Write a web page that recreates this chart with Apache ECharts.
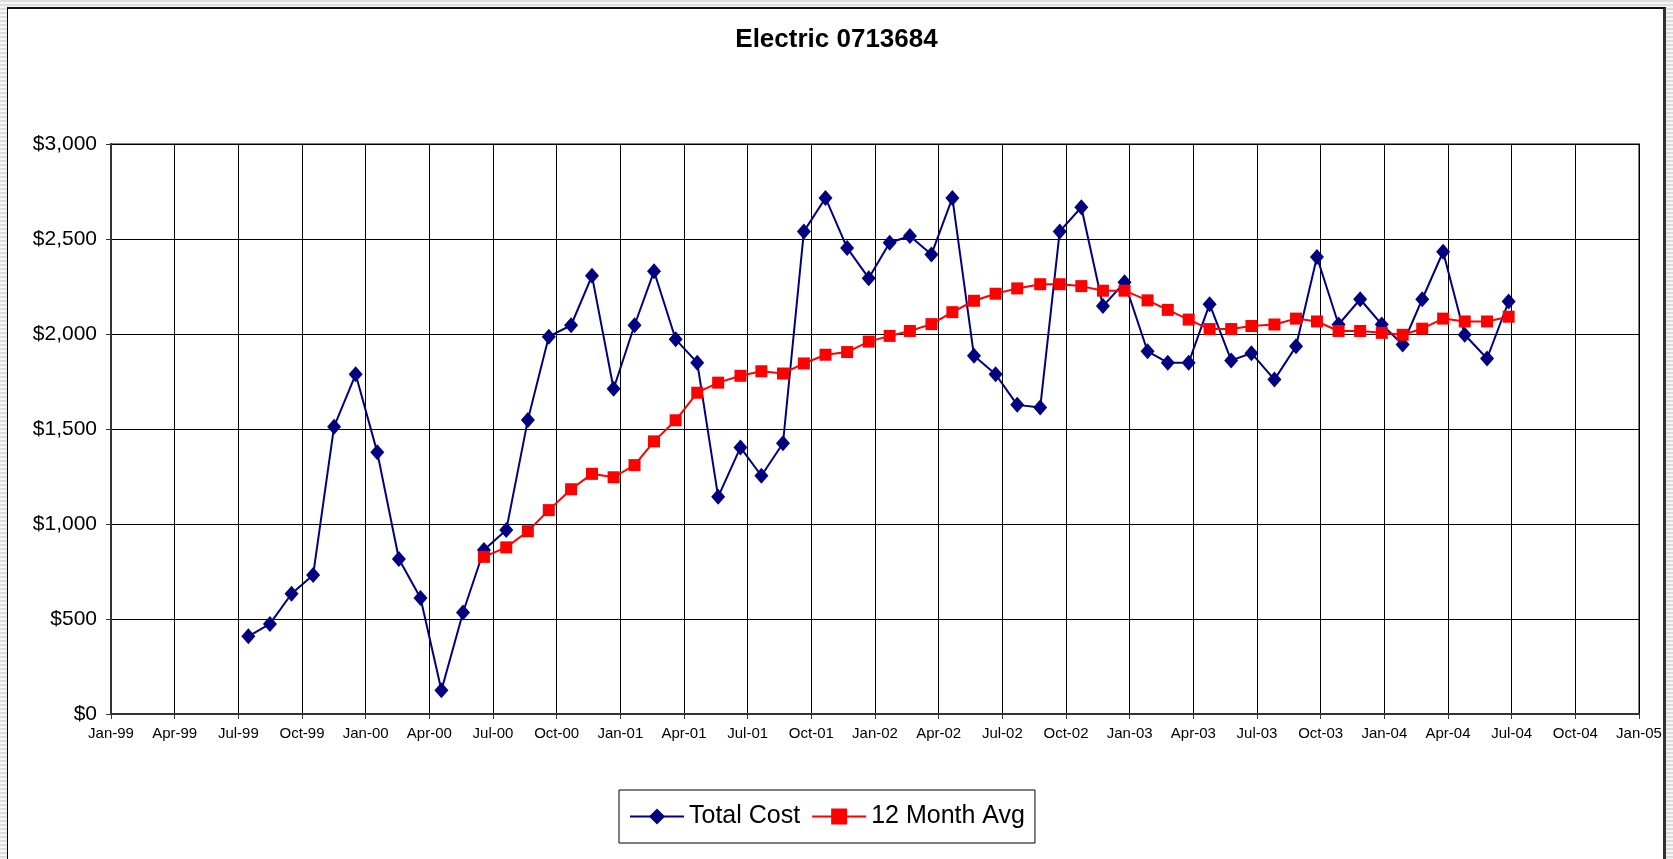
<!DOCTYPE html>
<html>
<head>
<meta charset="utf-8">
<title>Electric 0713684</title>
<script src="https://cdn.jsdelivr.net/npm/echarts@6/dist/echarts.min.js"></script>
<style>
html, body { margin: 0; padding: 0; width: 1673px; height: 859px; overflow: hidden;
  background: repeating-linear-gradient(to bottom, #dcdcdc 0, #dcdcdc 2px, #f6f6f6 2px, #f6f6f6 4px); }
.frame { position: absolute; left: 7px; top: 7px; width: 1655px; height: 900px; background: #fff;
  border-left: 1px solid #000; border-top: 2px solid #111; border-right: 3px solid #333; }
#main { position: absolute; left: 0; top: 0; width: 1673px; height: 859px; }
</style>
</head>
<body>
<div class="frame"></div>
<div id="main"></div>
<script>
// meter read dates
var readDates = [
  '1999-07-17', '1999-08-17', '1999-09-17', '1999-10-18', '1999-11-17', '1999-12-18',
  '2000-01-18', '2000-02-18', '2000-03-20', '2000-04-19', '2000-05-20', '2000-06-19',
  '2000-07-21', '2000-08-21', '2000-09-20', '2000-10-22', '2000-11-21', '2000-12-22',
  '2001-01-21', '2001-02-18', '2001-03-21', '2001-04-21', '2001-05-21', '2001-06-22',
  '2001-07-22', '2001-08-22', '2001-09-21', '2001-10-22', '2001-11-22', '2001-12-23',
  '2002-01-22', '2002-02-20', '2002-03-23', '2002-04-22', '2002-05-23', '2002-06-23',
  '2002-07-24', '2002-08-26', '2002-09-23', '2002-10-24', '2002-11-24', '2002-12-25',
  '2003-01-27', '2003-02-25', '2003-03-27', '2003-04-26', '2003-05-27', '2003-06-25',
  '2003-07-28', '2003-08-28', '2003-09-27', '2003-10-28', '2003-11-28', '2003-12-29',
  '2004-01-28', '2004-02-25', '2004-03-26', '2004-04-26', '2004-05-28', '2004-06-28'
];
var totalCost = [
  409, 474, 633, 732, 1512, 1788, 1377, 816, 611, 125, 534, 863,
  968, 1548, 1986, 2046, 2306, 1712, 2046, 2330, 1972, 1849, 1143, 1403,
  1254, 1425, 2540, 2716, 2453, 2294, 2480, 2516, 2419, 2716, 1885, 1788,
  1627, 1613, 2540, 2667, 2147, 2272, 1909, 1849, 1849, 2157, 1861, 1899,
  1760, 1935, 2405, 2050, 2183, 2050, 1945, 2183, 2433, 1996, 1871, 2171
];
var monthAvg = [
  null, null, null, null, null, null, null, null, null, null, null, 827,
  877, 962, 1073, 1183, 1264, 1246, 1310, 1435, 1546, 1691, 1744, 1780,
  1804, 1792, 1845, 1891, 1905, 1960, 1990, 2016, 2052, 2115, 2175, 2212,
  2240, 2262, 2262, 2252, 2228, 2228, 2177, 2127, 2076, 2026, 2026, 2042,
  2050, 2081, 2066, 2016, 2016, 2006, 1996, 2028, 2081, 2066, 2066, 2091
];
var tickLabels = [
  'Jan-99', 'Apr-99', 'Jul-99', 'Oct-99', 'Jan-00', 'Apr-00', 'Jul-00', 'Oct-00',
  'Jan-01', 'Apr-01', 'Jul-01', 'Oct-01', 'Jan-02', 'Apr-02', 'Jul-02', 'Oct-02',
  'Jan-03', 'Apr-03', 'Jul-03', 'Oct-03', 'Jan-04', 'Apr-04', 'Jul-04', 'Oct-04', 'Jan-05'
];

// x axis in hours since 1 Jan 1999; 6 years = 52608 h, 24 quarters of 2192 h
var start = Date.UTC(1999, 0, 1);
var span = 52608, step = span / (tickLabels.length - 1);
function hours(d) { return (Date.parse(d) - start) / 3600000; }

var costData = [], avgData = [];
readDates.forEach(function(d, i) {
  costData.push([hours(d), totalCost[i]]);
  if (monthAvg[i] != null) avgData.push([hours(d), monthAvg[i]]);
});

var font = 'Liberation Sans, Arial, sans-serif';
var chart = echarts.init(document.getElementById('main'));
chart.setOption({
  animation: false,
  textStyle: { fontFamily: font },
  title: {
    text: 'Electric 0713684',
    left: 'center',
    top: 22,
    textStyle: { fontSize: 26, fontWeight: 'bold', color: '#000', fontFamily: font }
  },
  grid: {
    left: 111, top: 144, width: 1528, height: 570,
    show: true, borderColor: '#808080', borderWidth: 2
  },
  legend: {
    data: ['Total Cost', '12 Month Avg'],
    left: 619, top: 790,
    padding: [14, 10, 14, 10],
    itemGap: 11,
    itemWidth: 54, itemHeight: 20,
    borderColor: '#000', borderWidth: 1,
    textStyle: { fontSize: 25, color: '#000', fontFamily: font }
  },
  xAxis: {
    type: 'value',
    min: 0, max: span, interval: step,
    axisLine: { show: true, lineStyle: { color: '#333', width: 2 } },
    axisTick: { show: true, length: 5, lineStyle: { color: '#333' } },
    splitLine: { show: true, lineStyle: { color: '#000', width: 1 } },
    axisLabel: {
      fontSize: 15, color: '#000', margin: 12, fontFamily: font,
      showMinLabel: true, showMaxLabel: true,
      formatter: function(v) { return tickLabels[Math.round(v / step)]; }
    }
  },
  yAxis: {
    type: 'value',
    min: 0, max: 3000, interval: 500,
    axisLine: { show: true, lineStyle: { color: '#333', width: 2 } },
    axisTick: { show: true, length: 5, lineStyle: { color: '#333' } },
    splitLine: { show: true, lineStyle: { color: '#000', width: 1 } },
    axisLabel: {
      fontSize: 21, color: '#000', margin: 14, fontFamily: font,
      formatter: function(v) { return '$' + v.toLocaleString('en-US'); }
    }
  },
  series: [{
    name: 'Total Cost',
    type: 'line',
    data: costData,
    symbol: 'diamond',
    symbolSize: [14, 16],
    lineStyle: { color: '#000080', width: 2 },
    itemStyle: { color: '#000080' }
  }, {
    name: '12 Month Avg',
    type: 'line',
    data: avgData,
    symbol: 'rect',
    symbolSize: 12,
    lineStyle: { color: '#ff0000', width: 2 },
    itemStyle: { color: '#ff0000' }
  }]
});
</script>
</body>
</html>
